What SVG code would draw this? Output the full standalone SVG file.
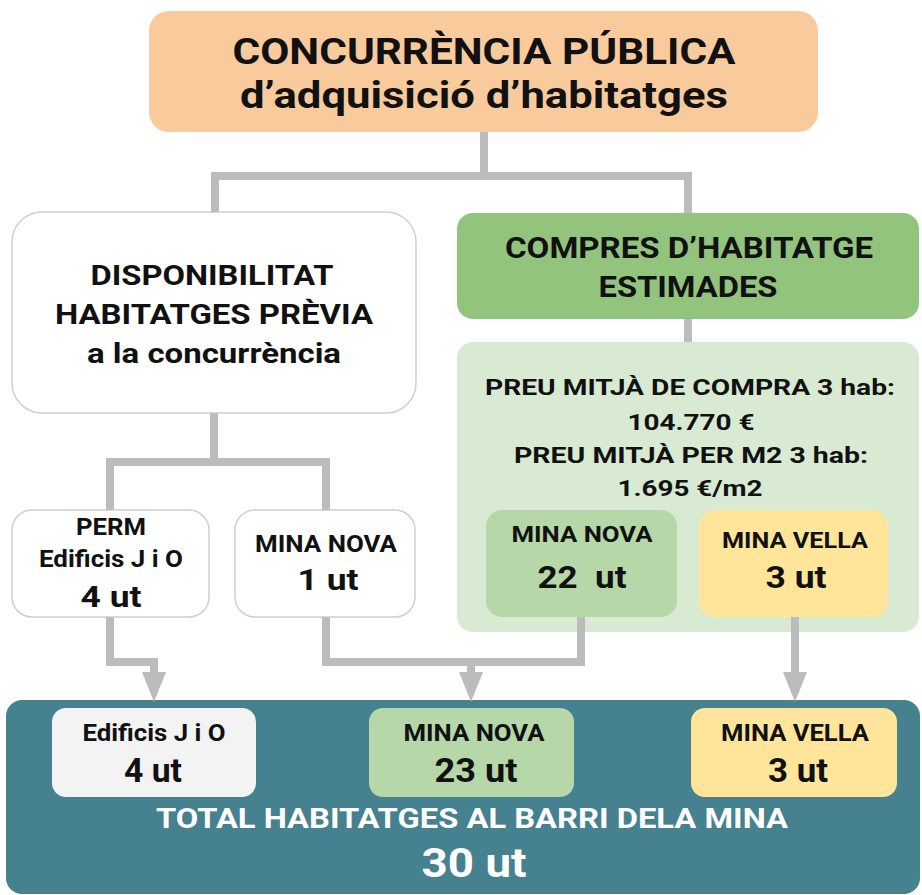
<svg xmlns="http://www.w3.org/2000/svg" width="922" height="895" viewBox="0 0 922 895">
<defs>
<style>
text{font-family:Roboto,"Liberation Sans",sans-serif;font-weight:bold;fill:#111;text-anchor:middle}
.w{fill:#ffffff}
.conn{fill:none;stroke:#bcbcbc;stroke-width:8;stroke-linejoin:miter}
.white{fill:#ffffff;stroke:#cfcfcf;stroke-width:1.5}
</style>
<marker id="arr" viewBox="0 0 30 24" refX="0" refY="12" markerWidth="30" markerHeight="24" markerUnits="userSpaceOnUse" orient="auto">
<path d="M0,0 L30,12 L0,24 z" fill="#bcbcbc"/>
</marker>
</defs>
<rect width="922" height="895" fill="#ffffff"/>

<g id="title">
<rect x="149" y="11" width="669" height="121" rx="20" fill="#f9cb9c"/>
<text x="484" y="64" font-size="37" textLength="503" lengthAdjust="spacingAndGlyphs">CONCURRÈNCIA PÚBLICA</text>
<text x="484" y="108" font-size="37" textLength="488" lengthAdjust="spacingAndGlyphs">d’adquisició d’habitatges</text>
</g>

<g id="disponibilitat">
<rect x="12" y="212" width="404" height="201" rx="30" class="white"/>
<text x="212" y="285" font-size="28" textLength="243" lengthAdjust="spacingAndGlyphs">DISPONIBILITAT</text>
<text x="214" y="324" font-size="28" textLength="318" lengthAdjust="spacingAndGlyphs">HABITATGES PRÈVIA</text>
<text x="214" y="363" font-size="28" textLength="254" lengthAdjust="spacingAndGlyphs">a la concurrència</text>
</g>

<g id="compres">
<rect x="457" y="213" width="462" height="106" rx="16" fill="#93c47d"/>
<text x="689" y="258" font-size="29" textLength="368" lengthAdjust="spacingAndGlyphs">COMPRES D’HABITATGE</text>
<text x="688" y="297" font-size="29" textLength="179" lengthAdjust="spacingAndGlyphs">ESTIMADES</text>
</g>

<g id="preus">
<rect x="457" y="342" width="462" height="290" rx="16" fill="#d9ead3"/>
<text x="690" y="395" font-size="22" textLength="410" lengthAdjust="spacingAndGlyphs">PREU MITJÀ DE COMPRA 3 hab:</text>
<text x="691" y="430" font-size="22" textLength="127" lengthAdjust="spacingAndGlyphs">104.770 €</text>
<text x="691" y="463" font-size="22" textLength="354" lengthAdjust="spacingAndGlyphs">PREU MITJÀ PER M2 3 hab:</text>
<text x="690" y="496" font-size="22" textLength="145" lengthAdjust="spacingAndGlyphs">1.695 €/m2</text>
</g>

<g id="compra-mina-nova">
<rect x="486" y="510" width="191" height="107" rx="16" fill="#b6d7a8"/>
<text x="582" y="542" font-size="22" textLength="141" lengthAdjust="spacingAndGlyphs">MINA NOVA</text>
<text x="582" y="588" font-size="32" textLength="89" lengthAdjust="spacingAndGlyphs" xml:space="preserve">22  ut</text>
</g>

<g id="compra-mina-vella">
<rect x="699" y="510" width="189" height="107" rx="16" fill="#ffe599"/>
<text x="795" y="548" font-size="22" textLength="146" lengthAdjust="spacingAndGlyphs">MINA VELLA</text>
<text x="796" y="588" font-size="32" textLength="61" lengthAdjust="spacingAndGlyphs">3 ut</text>
</g>

<g id="perm">
<rect x="12" y="510" width="197" height="107" rx="20" class="white"/>
<text x="111" y="535" font-size="23" textLength="70" lengthAdjust="spacingAndGlyphs">PERM</text>
<text x="111" y="567" font-size="24" textLength="144" lengthAdjust="spacingAndGlyphs">Edificis J i O</text>
<text x="111" y="607" font-size="30" textLength="61" lengthAdjust="spacingAndGlyphs">4 ut</text>
</g>

<g id="previa-mina-nova">
<rect x="235" y="510" width="180" height="107" rx="20" class="white"/>
<text x="326" y="552" font-size="23" textLength="142" lengthAdjust="spacingAndGlyphs">MINA NOVA</text>
<text x="328" y="590" font-size="30" textLength="61" lengthAdjust="spacingAndGlyphs">1 ut</text>
</g>

<g id="total">
<rect x="6" y="700" width="914" height="194" rx="16" fill="#45818e"/>
<text class="w" x="472" y="828" font-size="28" textLength="632" lengthAdjust="spacingAndGlyphs">TOTAL HABITATGES AL BARRI DELA MINA</text>
<text class="w" x="474" y="877" font-size="40" textLength="105" lengthAdjust="spacingAndGlyphs">30 ut</text>
</g>

<g id="total-edificis">
<rect x="52" y="708" width="204" height="89" rx="14" fill="#f3f3f3"/>
<text x="154" y="741" font-size="24" textLength="143" lengthAdjust="spacingAndGlyphs">Edificis J i O</text>
<text x="153" y="782" font-size="33" textLength="58" lengthAdjust="spacingAndGlyphs">4 ut</text>
</g>

<g id="total-mina-nova">
<rect x="369" y="708" width="205" height="89" rx="14" fill="#b6d7a8"/>
<text x="474" y="741" font-size="24" textLength="141" lengthAdjust="spacingAndGlyphs">MINA NOVA</text>
<text x="476" y="782" font-size="33" textLength="83" lengthAdjust="spacingAndGlyphs">23 ut</text>
</g>

<g id="total-mina-vella">
<rect x="691" y="708" width="206" height="89" rx="14" fill="#ffe599"/>
<text x="795" y="741" font-size="24" textLength="148" lengthAdjust="spacingAndGlyphs">MINA VELLA</text>
<text x="798" y="782" font-size="33" textLength="60" lengthAdjust="spacingAndGlyphs">3 ut</text>
</g>

<g id="connectors">
<path class="conn" d="M484,132 V176"/>
<path class="conn" d="M215,212 V176 H688 V213"/>
<path class="conn" d="M688,319 V342"/>
<path class="conn" d="M214,413 V462"/>
<path class="conn" d="M110,510 V462 H326 V510"/>
<path class="conn" d="M110,617 V662 H154 V672" marker-end="url(#arr)"/>
<path class="conn" d="M326,617 V662 H581 V617"/>
<path class="conn" d="M471,662 V672" marker-end="url(#arr)"/>
<path class="conn" d="M795,617 V672" marker-end="url(#arr)"/>
</g>
</svg>
